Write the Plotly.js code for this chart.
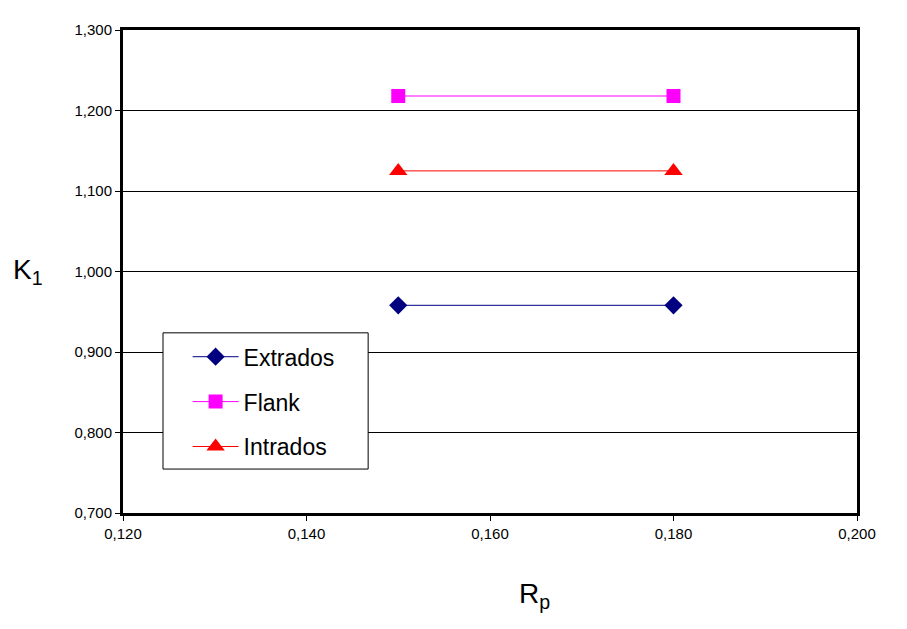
<!DOCTYPE html>
<html><head><meta charset="utf-8">
<script src="https://cdn.plot.ly/plotly-3.0.1.min.js"></script>
<style>body{margin:0;background:#fff}#c{width:907px;height:629px}</style>
</head><body><div id="c"></div>
<script>
const rp = [0.150, 0.180];
const extrados = [0.958, 0.958];
const flank = [1.218, 1.218];
const intrados = [1.125, 1.125];
const seriesNames = ['Extrados', 'Flank', 'Intrados'];

const traces = [
  {x: rp, y: extrados, name: seriesNames[0], legendgroup: 'a', mode: 'lines+markers',
   line: {color: '#000080', width: 1}, marker: {symbol: 'diamond', size: 14, color: '#000080'}},
  {x: rp, y: flank, name: seriesNames[1], legendgroup: 'b', mode: 'lines+markers',
   line: {color: '#FF00FF', width: 1}, marker: {symbol: 'square', size: 14, color: '#FF00FF'}},
  {x: rp, y: intrados, name: seriesNames[2], legendgroup: 'c', mode: 'lines+markers',
   line: {color: '#FF0000', width: 1}, marker: {symbol: 'triangle-up', size: 16, color: '#FF0000'}}
];

const layout = {
  width: 907, height: 629,
  margin: {l: 123, r: 50, t: 30, b: 116},
  paper_bgcolor: '#fff', plot_bgcolor: '#fff',
  separators: ',.',
  font: {family: 'Liberation Sans, Arial, sans-serif', color: '#000', size: 15},
  showlegend: true,
  legend: {x: 0.088, y: 0.368, xanchor: 'left', yanchor: 'top',
           bgcolor: 'rgba(0,0,0,0)', borderwidth: 0,
           font: {size: 23}, tracegroupgap: 12, itemwidth: 46, traceorder: 'grouped'},
  shapes: [
    {type: 'rect', xref: 'paper', yref: 'paper', x0: 0.0545, x1: 0.334, y0: 0.091, y1: 0.373,
     line: {color: '#000', width: 1}, fillcolor: '#fff', layer: 'above'}
  ],
  xaxis: {range: [0.12, 0.2], dtick: 0.02, tick0: 0.12, tickformat: '.3f',
          showgrid: false, zeroline: false, showline: true, linewidth: 3, linecolor: '#000', mirror: true,
          ticks: 'outside', ticklen: 5, tickwidth: 1, tickcolor: '#000'},
  yaxis: {range: [0.7, 1.3], dtick: 0.1, tick0: 0.7, tickformat: '.3f',
          showgrid: true, gridcolor: '#000', gridwidth: 1, zeroline: false,
          showline: true, linewidth: 3, linecolor: '#000', mirror: true,
          ticks: 'outside', ticklen: 5, tickwidth: 1, tickcolor: '#000'},
  annotations: [
    {text: 'K<sub>1</sub>', xref: 'paper', yref: 'paper', x: -0.13, y: 0.5, showarrow: false,
     font: {size: 28}, xanchor: 'center', yanchor: 'middle'},
    {text: 'R<sub>p</sub>', xref: 'paper', yref: 'paper', x: 0.56, y: -0.17, showarrow: false,
     font: {size: 28}, xanchor: 'center', yanchor: 'middle'}
  ]
};
Plotly.newPlot('c', traces, layout, {displayModeBar: false, staticPlot: true});
</script></body></html>
